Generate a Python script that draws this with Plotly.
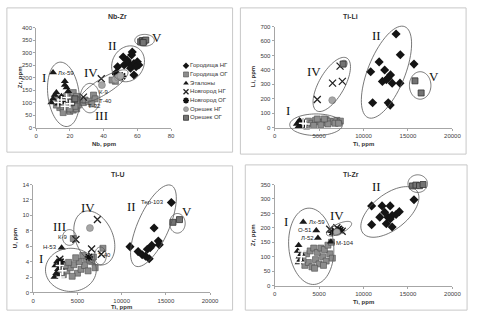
import math
import plotly.graph_objects as go

W, H = 479, 319

SERIES = ["Городища НГ", "Городища ОГ", "Эталоны", "Новгород НГ", "Новгород ОГ", "Орешек НГ", "Орешек ОГ"]

# ---------------- Nb-Zr ----------------
NBZR_GOR_NG_NB = [57, 51.6, 48.3, 52.2, 55, 58, 60, 60.9, 56, 58, 59.3, 54, 47.3, 56.6]
NBZR_GOR_NG_ZR = [302, 282, 243, 250, 256, 256, 263, 250, 237, 210, 243, 269, 217, 290]
NBZR_GOR_OG_NB = [14, 16, 18, 20, 22, 24, 15, 17, 19, 21, 23, 25, 20, 22, 18, 13, 16, 19, 21, 24, 26, 12, 23, 20, 28, 29, 31, 34, 35, 33, 47, 45]
NBZR_GOR_OG_ZR = [80, 75, 70, 65, 70, 75, 95, 100, 110, 120, 105, 90, 130, 140, 125, 115, 60, 85, 95, 125, 110, 90, 85, 75, 100, 110, 105, 130, 115, 95, 185, 190]
NBZR_ETAL_NB = [10, 17, 17, 18, 12, 10, 9, 13, 15, 11, 19, 14]
NBZR_ETAL_ZR = [220, 185, 170, 160, 140, 115, 100, 95, 125, 130, 145, 105]
NBZR_NOV_NG_NB = [38.6, 28]
NBZR_NOV_NG_ZR = [195, 122]
NBZR_NOV_OG_NB = [47.5, 51, 16]
NBZR_NOV_OG_ZR = [212, 205, 112]
NBZR_ORE_NG_NB = [39, 47, 48.5, 50]
NBZR_ORE_NG_ZR = [170, 192, 200, 207]
NBZR_ORE_OG_NB = [62, 63, 64, 65, 63.5, 21, 23]
NBZR_ORE_OG_ZR = [343, 348, 345, 350, 340, 100, 115]
NBZR_WHITE_NB = [15, 17, 20, 13, 18]
NBZR_WHITE_ZR = [110, 85, 95, 100, 120]

# ---------------- Ti-Li ----------------
TILI_GOR_NG_TI = [13663, 14139, 11758, 10806, 12381, 13040, 12747, 12125, 13223, 14102, 15678, 11026, 12784, 13004, 12564]
TILI_GOR_NG_LI = [648, 505, 455, 387, 399, 365, 342, 320, 308, 308, 440, 172, 172, 156, 331]
TILI_GOR_OG_TI = [3000, 3400, 3800, 4200, 4600, 5000, 5400, 5800, 6200, 6600, 7000, 7400, 4400, 5200, 6000, 6800, 3600, 4800, 5600, 7200]
TILI_GOR_OG_LI = [25, 35, 45, 30, 50, 40, 35, 55, 45, 40, 50, 45, 15, 20, 25, 30, 10, 60, 60, 30]
TILI_ETAL_TI = [2600, 2800, 3000, 2700, 3200, 2500]
TILI_ETAL_LI = [30, 50, 20, 10, 40, 25]
TILI_NOV_NG_TI = [4800, 6520, 7619, 7363]
TILI_NOV_NG_LI = [195, 308, 320, 426]
TILI_NOV_OG_TI = [2900, 3300]
TILI_NOV_OG_LI = [35, 20]
TILI_ORE_NG_TI = [6484, 7802]
TILI_ORE_NG_LI = [190, 444]
TILI_ORE_OG_TI = [15788, 16484, 7700]
TILI_ORE_OG_LI = [324, 240, 440]
TILI_WHITE_TI = [3200, 3500]
TILI_WHITE_LI = [30, 25]

# ---------------- Ti-U ----------------
TIU_GOR_NG_TI = [15616, 13666, 10939, 11860, 12320, 12700, 13112, 13223, 13400, 14143, 14250, 12900]
TIU_GOR_NG_U = [11.67, 8.36, 5.94, 5.3, 4.9, 4.7, 4.37, 5.8, 6.1, 6.66, 6.2, 5.6]
TIU_GOR_OG_TI = [3400, 3800, 4200, 4600, 5000, 5400, 5800, 6200, 6600, 7000, 3600, 4400, 5200, 6000, 4800, 5600, 6400, 3200, 4000, 6800, 4530, 7882]
TIU_GOR_OG_U = [2.3, 2.8, 3.2, 3.6, 2.5, 3.0, 3.5, 2.8, 4.0, 3.2, 3.5, 2.1, 4.0, 4.4, 4.5, 4.8, 4.2, 2.6, 3.9, 4.6, 7.0, 5.73]
TIU_ETAL_TI = [2400, 2600, 2800, 2500, 3000, 2700, 2900, 3100, 3204]
TIU_ETAL_U = [2.0, 2.5, 3.0, 3.5, 3.8, 4.0, 2.2, 3.2, 5.81]
TIU_NOV_NG_TI = [7256, 6593, 7700, 4825, 3000]
TIU_NOV_NG_U = [9.46, 5.64, 4.96, 6.87, 4.3]
TIU_NOV_OG_TI = [3100, 6300]
TIU_NOV_OG_U = [4.0, 4.6]
TIU_ORE_NG_TI = [6409]
TIU_ORE_NG_U = [8.36]
TIU_ORE_OG_TI = [15800, 16540]
TIU_ORE_OG_U = [9.1, 9.45]
TIU_WHITE_TI = [3000, 3300, 3100]
TIU_WHITE_U = [3.5, 2.8, 2.0]

# ---------------- Ti-Zr ----------------
TIZR_GOR_NG_TI = [10916, 12088, 12999, 12381, 11832, 12747, 13223, 13663, 14029, 12564, 13223, 10916, 15678, 13000]
TIZR_GOR_NG_ZR = [276, 276, 276, 254, 237, 237, 243, 246, 256, 214, 203, 211, 297, 231]
TIZR_GOR_OG_TI = [3400, 3800, 4200, 4600, 5000, 5400, 5800, 6200, 6500, 3600, 4000, 4400, 4800, 5200, 5600, 6000, 6400, 3200, 4500, 5500]
TIZR_GOR_OG_ZR = [70, 80, 65, 90, 75, 100, 85, 110, 95, 110, 120, 130, 115, 130, 125, 140, 150, 90, 60, 70]
TIZR_ETAL_TI = [3223, 4689, 4872, 6337, 2700, 2600, 2800, 2700, 3000, 2900]
TIZR_ETAL_ZR = [220, 191, 165, 152, 140, 120, 100, 80, 110, 90]
TIZR_NOV_NG_TI = [6200, 6800, 7200, 7600, 7000]
TIZR_NOV_NG_ZR = [195, 190, 195, 188, 200]
TIZR_NOV_OG_TI = [6500, 7400]
TIZR_NOV_OG_ZR = [185, 192]
TIZR_ORE_NG_TI = [7000]
TIZR_ORE_NG_ZR = [185]
TIZR_ORE_OG_TI = [15500, 15900, 16300, 16700]
TIZR_ORE_OG_ZR = [345, 348, 346, 350]
TIZR_WHITE_TI = [3000, 2900, 3100]
TIZR_WHITE_ZR = [100, 80, 120]

# ---------------- text labels (sample names) ----------------
LABELS_NBZR = [("Лх-59", 12, 218, "left"), ("К-9", 36, 142, "left"), ("Т-40", 36.2, 106, "left"), ("Т-32", 29.6, 86, "left")]
LABELS_TIU = [("Тер-103", 15000, 11.67, "right"), ("К-9", 4050, 7.13, "right"), ("Н-53", 2950, 5.85, "right"), ("Т-40", 7100, 4.9, "left")]
LABELS_TIZR = [("Лх-59", 3700, 220, "left"), ("О-51", 4400, 191, "right"), ("Л-52", 4690, 165, "right"), ("М-104", 6703, 147, "left")]

STYLE = {
    "Городища НГ": dict(symbol="diamond", color="#141414", size=7, line=dict(width=0)),
    "Городища ОГ": dict(symbol="square", color="#8c8c8c", size=6, line=dict(color="#4d4d4d", width=0.6)),
    "Эталоны": dict(symbol="triangle-up", color="#1a1a1a", size=7, line=dict(width=0)),
    "Новгород НГ": dict(symbol="x-thin-open", color="#222222", size=7, line=dict(color="#222222", width=1.3)),
    "Новгород ОГ": dict(symbol="asterisk-open", color="#111111", size=7, line=dict(color="#111111", width=1.6)),
    "Орешек НГ": dict(symbol="circle", color="#a6a6a6", size=7, line=dict(color="#777777", width=0.5)),
    "Орешек ОГ": dict(symbol="square", color="#737373", size=6, line=dict(color="#333333", width=0.8)),
}
WHITE_STYLE = dict(symbol="cross-thin-open", color="white", size=6, line=dict(color="white", width=1.5))

# panel geometry (pixels in the 479x319 page)
PANELS = [
    dict(xa="x", ya="y", px=(35, 173), py=(127, 25), xr=[0, 80], yr=[0, 400],
         xt=[0, 20, 40, 60, 80], yt=list(range(0, 401, 50)), title="Nb-Zr", xtitle="Nb, ppm", ytitle="Zr, ppm",
         frame=(5, 5, 236, 152), ttl=(118, 14), xtl=144, ytlx=18),
    dict(xa="x2", ya="y2", px=(279, 461), py=(127, 24), xr=[0, 20000], yr=[0, 700],
         xt=[0, 5000, 10000, 15000, 20000], yt=list(range(0, 701, 100)), title="Ti-Li", xtitle="Ti, ppm", ytitle="Li, ppm",
         frame=(244, 5, 475, 154), ttl=(357, 14), xtl=144, ytlx=257),
    dict(xa="x3", ya="y3", px=(32, 213), py=(295, 185), xr=[0, 20000], yr=[0, 14],
         xt=[0, 5000, 10000, 15000, 20000], yt=list(range(0, 15, 2)), title="Ti-U", xtitle="Ti, ppm", ytitle="U, ppm",
         frame=(5, 166, 236, 313), ttl=(118, 175), xtl=310, ytlx=14),
    dict(xa="x4", ya="y4", px=(279, 461), py=(288, 185), xr=[0, 20000], yr=[0, 350],
         xt=[0, 5000, 10000, 15000, 20000], yt=list(range(0, 351, 50)), title="Ti-Zr", xtitle="Ti, ppm", ytitle="Zr, ppm",
         frame=(249, 165, 476, 313), ttl=(357, 175), xtl=305, ytlx=257),
]

DATA = [
    [(NBZR_GOR_NG_NB, NBZR_GOR_NG_ZR), (NBZR_GOR_OG_NB, NBZR_GOR_OG_ZR), (NBZR_ETAL_NB, NBZR_ETAL_ZR),
     (NBZR_NOV_NG_NB, NBZR_NOV_NG_ZR), (NBZR_NOV_OG_NB, NBZR_NOV_OG_ZR), (NBZR_ORE_NG_NB, NBZR_ORE_NG_ZR),
     (NBZR_ORE_OG_NB, NBZR_ORE_OG_ZR)],
    [(TILI_GOR_NG_TI, TILI_GOR_NG_LI), (TILI_GOR_OG_TI, TILI_GOR_OG_LI), (TILI_ETAL_TI, TILI_ETAL_LI),
     (TILI_NOV_NG_TI, TILI_NOV_NG_LI), (TILI_NOV_OG_TI, TILI_NOV_OG_LI), (TILI_ORE_NG_TI, TILI_ORE_NG_LI),
     (TILI_ORE_OG_TI, TILI_ORE_OG_LI)],
    [(TIU_GOR_NG_TI, TIU_GOR_NG_U), (TIU_GOR_OG_TI, TIU_GOR_OG_U), (TIU_ETAL_TI, TIU_ETAL_U),
     (TIU_NOV_NG_TI, TIU_NOV_NG_U), (TIU_NOV_OG_TI, TIU_NOV_OG_U), (TIU_ORE_NG_TI, TIU_ORE_NG_U),
     (TIU_ORE_OG_TI, TIU_ORE_OG_U)],
    [(TIZR_GOR_NG_TI, TIZR_GOR_NG_ZR), (TIZR_GOR_OG_TI, TIZR_GOR_OG_ZR), (TIZR_ETAL_TI, TIZR_ETAL_ZR),
     (TIZR_NOV_NG_TI, TIZR_NOV_NG_ZR), (TIZR_NOV_OG_TI, TIZR_NOV_OG_ZR), (TIZR_ORE_NG_TI, TIZR_ORE_NG_ZR),
     (TIZR_ORE_OG_TI, TIZR_ORE_OG_ZR)],
]
WHITES = [(NBZR_WHITE_NB, NBZR_WHITE_ZR), (TILI_WHITE_TI, TILI_WHITE_LI), (TIU_WHITE_TI, TIU_WHITE_U), (TIZR_WHITE_TI, TIZR_WHITE_ZR)]
LABELS = [LABELS_NBZR, [], LABELS_TIU, LABELS_TIZR]

# ellipses: (panel, center x data, center y data, semi-axis a px, semi-axis b px, angle deg)
ELLIPSES = [
    (0, 16.2, 133, 33, 16, 97), (0, 54.5, 255, 19, 16, 60), (0, 31.9, 118, 15, 10, 90),
    (0, 40, 165, 29, 8, 32), (0, 64.3, 349, 10, 6, 0),
    (1, 4670, 20, 27, 11, 0), (1, 12582, 384, 50, 19, 68), (1, 6429, 299, 31, 13, 60), (1, 16374, 292, 14, 11, 90),
    (2, 4254, 2.93, 26, 22, 0), (2, 13591, 8.65, 45, 16, 66), (2, 4088, 7.13, 8, 7, 90),
    (2, 6906, 7.06, 29, 19, 114), (2, 7591, 4.75, 9, 6, 90), (2, 16298, 8.97, 10, 8, 90),
    (3, 4121, 136, 39, 23, 95), (3, 12967, 255, 35, 18, 38), (3, 7253, 197, 14, 5, 25), (3, 16099, 353, 10, 9, 0),
]
ROMANS = [
    (0, "I", 4.6, 200), (0, "II", 45.2, 329), (0, "III", 38.8, 47), (0, "IV", 32.5, 220), (0, "V", 71.9, 361),
    (1, "I", 1538, 116), (1, "II", 11429, 639), (1, "IV", 4396, 387), (1, "V", 17912, 353),
    (2, "I", 884, 4.45), (2, "II", 11160, 11.2), (2, "III", 2983, 8.53), (2, "IV", 6188, 11.07), (2, "V", 17348, 10.44),
    (3, "I", 1319, 221), (3, "II", 11429, 343), (3, "IV", 7033, 241), (3, "V", 17582, 357),
]

FONT = "Liberation Sans"
fig = go.Figure()
layout = dict(width=W, height=H, margin=dict(l=0, r=0, t=0, b=0), paper_bgcolor="white",
              plot_bgcolor="rgba(0,0,0,0)", showlegend=False, shapes=[], annotations=[])


def mk(style, size=None):
    return dict(symbol=style["symbol"], color=style["color"], size=size or style["size"], line=style["line"])


def paper_text(txt, px, py, size, angle=0):
    return dict(text=txt, xref="paper", yref="paper", x=px / W, y=1 - py / H, showarrow=False,
                xanchor="center", yanchor="middle", textangle=angle,
                font=dict(family=FONT, size=size, color="#333"))


for i, p in enumerate(PANELS):
    for name, (xs, ys) in zip(SERIES, DATA[i]):
        fig.add_trace(go.Scatter(x=xs, y=ys, mode="markers", name=name, marker=mk(STYLE[name]),
                                 xaxis=p["xa"], yaxis=p["ya"], cliponaxis=False, hoverinfo="skip"))
    wx, wy = WHITES[i]
    fig.add_trace(go.Scatter(x=wx, y=wy, mode="markers", marker=mk(WHITE_STYLE), xaxis=p["xa"], yaxis=p["ya"],
                             cliponaxis=False, hoverinfo="skip"))
    sfx = "" if i == 0 else str(i + 1)
    common = dict(showgrid=False, zeroline=False, showline=True, linecolor="#a6a6a6", linewidth=1,
                  ticks="outside", ticklen=2, tickcolor="#a6a6a6", tickfont=dict(family=FONT, size=6, color="#404040"),
                  fixedrange=True, tickformat="d")
    layout["xaxis" + sfx] = dict(common, domain=[p["px"][0] / W, p["px"][1] / W], range=p["xr"], tickvals=p["xt"],
                                 anchor="y" + sfx)
    layout["yaxis" + sfx] = dict(common, domain=[1 - p["py"][0] / H, 1 - p["py"][1] / H], range=p["yr"],
                                 tickvals=p["yt"], anchor="x" + sfx)
    fx0, fy0, fx1, fy1 = p["frame"]
    layout["shapes"].append(dict(type="rect", xref="paper", yref="paper", x0=fx0 / W, x1=fx1 / W,
                                 y0=1 - fy1 / H, y1=1 - fy0 / H, line=dict(color="#c8c8c8", width=1)))
    layout["annotations"].append(paper_text("<b>" + p["title"] + "</b>", p["ttl"][0], p["ttl"][1], 7))
    layout["annotations"].append(paper_text("<b>" + p["xtitle"] + "</b>", (p["px"][0] + p["px"][1]) / 2, p["xtl"], 6))
    layout["annotations"].append(paper_text("<b>" + p["ytitle"] + "</b>", p["ytlx"], (p["py"][0] + p["py"][1]) / 2, 6, -90))
    for (txt, lx, ly, anc) in LABELS[i]:
        layout["annotations"].append(dict(text=txt, xref=p["xa"], yref=p["ya"], x=lx, y=ly, showarrow=False,
                                          xanchor=anc, yanchor="middle", font=dict(family=FONT, size=6, color="#222")))

for (pi, cx, cy, a, b, th) in ELLIPSES:
    p = PANELS[pi]
    wpx = p["px"][1] - p["px"][0]
    hpx = p["py"][0] - p["py"][1]
    fx = (cx - p["xr"][0]) / (p["xr"][1] - p["xr"][0])
    fy = (cy - p["yr"][0]) / (p["yr"][1] - p["yr"][0])
    t0 = math.radians(th)
    pts = []
    for k in range(73):
        t = 2 * math.pi * k / 72
        dx = a * math.cos(t) * math.cos(t0) - b * math.sin(t) * math.sin(t0)
        dy = a * math.cos(t) * math.sin(t0) + b * math.sin(t) * math.cos(t0)
        pts.append((fx + dx / wpx, fy + dy / hpx))
    path = "M " + " L ".join(f"{x:.4f},{y:.4f}" for x, y in pts) + " Z"
    layout["shapes"].append(dict(type="path", path=path, xref=p["xa"] + " domain", yref=p["ya"] + " domain",
                                 line=dict(color="#555555", width=0.8)))

for (pi, txt, rx, ry) in ROMANS:
    p = PANELS[pi]
    layout["annotations"].append(dict(text=txt, xref=p["xa"], yref=p["ya"], x=rx, y=ry, showarrow=False,
                                      xanchor="center", yanchor="middle",
                                      font=dict(family="Liberation Serif", size=13, color="#111")))

# manual compact legend for the first panel
LEG_X = (186, 235)
LEG_Y = (64, 117)
n = len(SERIES)
for k, name in enumerate(SERIES):
    fig.add_trace(go.Scatter(x=[0], y=[k], mode="markers+text", text=[name], textposition="middle right",
                             textfont=dict(family=FONT, size=6, color="#333"),
                             marker=mk(STYLE[name], size=5), xaxis="x5", yaxis="y5", cliponaxis=False,
                             hoverinfo="skip"))
layout["xaxis5"] = dict(domain=[LEG_X[0] / W, LEG_X[1] / W], range=[-0.05, 1], visible=False, fixedrange=True,
                        anchor="y5")
layout["yaxis5"] = dict(domain=[1 - LEG_Y[1] / H, 1 - LEG_Y[0] / H], range=[n - 1, 0], visible=False,
                        fixedrange=True, anchor="x5")

fig.update_layout(**layout)
fig.write_html("out.html")
